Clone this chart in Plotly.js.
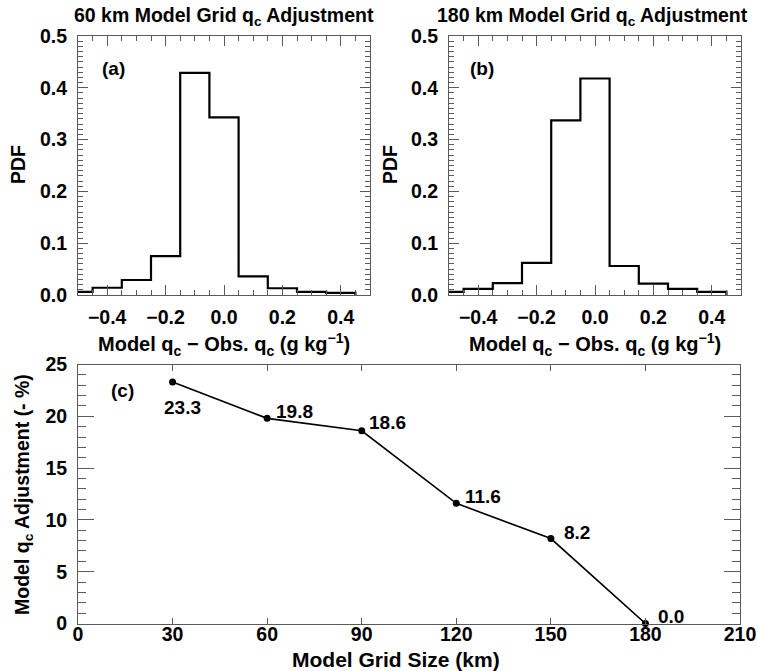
<!DOCTYPE html>
<html>
<head>
<meta charset="utf-8">
<script src="https://cdn.plot.ly/plotly-3.0.1.min.js"></script>
<style>html,body{margin:0;padding:0;background:#fff}#chart{width:758px;height:671px}</style>
</head>
<body>
<div id="chart"></div>
<script>
// ---- data ----
const binCenters = [-0.5, -0.4, -0.3, -0.2, -0.1, 0.0, 0.1, 0.2, 0.3, 0.4];
const pdf60km  = [0.006, 0.014, 0.029, 0.075, 0.429, 0.343, 0.036, 0.013, 0.006, 0.004];
const pdf180km = [0.006, 0.012, 0.023, 0.062, 0.337, 0.418, 0.056, 0.022, 0.012, 0.006];
const gridSize   = [30, 60, 90, 120, 150, 180];
const adjustment = [23.3, 19.8, 18.6, 11.6, 8.2, 0.0];
const panelTitles = ['60 km Model Grid q<sub>c</sub> Adjustment', '180 km Model Grid q<sub>c</sub> Adjustment'];
const panelLetters = ['(a)', '(b)', '(c)'];

// ---- helpers ----
const W = 758, H = 671;
const px = v => v / W;
const py = v => 1 - v / H;
const binWidth = 0.1;
function stepXY(centers, vals) {
  const xs = [], ys = [];
  centers.forEach((c, i) => { xs.push(c - binWidth / 2); ys.push(vals[i]); });
  xs.push(centers[centers.length - 1] + binWidth / 2); ys.push(vals[vals.length - 1]);
  xs.push(centers[centers.length - 1] + binWidth / 2); ys.push(0);
  return {xs, ys};
}
const FONT = 'Liberation Sans, Arial, Helvetica, sans-serif';
const AX = '#5a5a5a';
const tickFont = {family: FONT, size: 19.5, color: '#000', weight: 'bold'};

const s60 = stepXY(binCenters, pdf60km);
const s180 = stepXY(binCenters, pdf180km);

const traces = [
  {x: s60.xs, y: s60.ys, xaxis: 'x', yaxis: 'y', type: 'scatter', mode: 'lines',
   line: {shape: 'hv', color: '#000', width: 2.2}, hoverinfo: 'skip'},
  {x: s180.xs, y: s180.ys, xaxis: 'x2', yaxis: 'y2', type: 'scatter', mode: 'lines',
   line: {shape: 'hv', color: '#000', width: 2.2}, hoverinfo: 'skip'},
  {x: gridSize, y: adjustment, xaxis: 'x3', yaxis: 'y3', type: 'scatter', mode: 'lines+markers',
   line: {color: '#000', width: 1.6}, marker: {color: '#000', size: 7}, cliponaxis: false}
];

function histX(domain, anchor) {
  return {domain, anchor, range: [-0.5, 0.5], tick0: 0, dtick: 0.2, tickformat: '.1f',
    ticks: 'inside', ticklen: 10, tickwidth: 1, tickcolor: AX,
    minor: {dtick: 0.05, ticks: 'inside', ticklen: 5, tickcolor: AX, tickwidth: 1},
    showline: true, linecolor: AX, linewidth: 1, mirror: 'allticks',
    showgrid: false, zeroline: false, tickfont: tickFont, ticklabelstandoff: 5};
}
function histY(domain, anchor) {
  return {domain, anchor, range: [0, 0.5], tick0: 0, dtick: 0.1, tickformat: '.1f',
    ticks: 'inside', ticklen: 10, tickwidth: 1, tickcolor: AX,
    minor: {dtick: 0.01, ticks: 'inside', ticklen: 5, tickcolor: AX, tickwidth: 1},
    showline: true, linecolor: AX, linewidth: 1, mirror: 'allticks',
    showgrid: false, zeroline: false, tickfont: tickFont, ticklabelstandoff: 6};
}

const labelShift = [[10, -25], [27, 7], [26, 8], [27, 7], [26, 6], [26, 7.5]];
const ann = [];
const tf = (size) => ({family: FONT, size, color: '#000', weight: 'bold'});
ann.push({xref: 'paper', yref: 'paper', x: px(224), y: py(17), text: panelTitles[0], showarrow: false, xanchor: 'center', yanchor: 'middle', font: tf(19.5)});
ann.push({xref: 'paper', yref: 'paper', x: px(592), y: py(17), text: panelTitles[1], showarrow: false, xanchor: 'center', yanchor: 'middle', font: tf(19.5)});
const xtitle = 'Model q<sub>c</sub> − Obs. q<sub>c</sub> (g kg<sup>−1</sup>)';
ann.push({xref: 'paper', yref: 'paper', x: px(224), y: py(344), text: xtitle, showarrow: false, xanchor: 'center', yanchor: 'middle', font: tf(20)});
ann.push({xref: 'paper', yref: 'paper', x: px(595), y: py(344), text: xtitle, showarrow: false, xanchor: 'center', yanchor: 'middle', font: tf(20)});
ann.push({xref: 'paper', yref: 'paper', x: px(18), y: py(165), text: 'PDF', textangle: -90, showarrow: false, xanchor: 'center', yanchor: 'middle', font: tf(19.5)});
ann.push({xref: 'paper', yref: 'paper', x: px(390), y: py(165), text: 'PDF', textangle: -90, showarrow: false, xanchor: 'center', yanchor: 'middle', font: tf(19.5)});
ann.push({xref: 'paper', yref: 'paper', x: px(23), y: py(495), text: 'Model q<sub>c</sub> Adjustment (- %)', textangle: -90, showarrow: false, xanchor: 'center', yanchor: 'middle', font: tf(19.5)});
ann.push({xref: 'paper', yref: 'paper', x: px(396), y: py(659), text: 'Model Grid Size (km)', showarrow: false, xanchor: 'center', yanchor: 'middle', font: tf(21)});
ann.push({xref: 'x', yref: 'y', x: -0.377, y: 0.437, text: panelLetters[0], showarrow: false, xanchor: 'center', yanchor: 'middle', font: tf(19)});
ann.push({xref: 'x2', yref: 'y2', x: -0.387, y: 0.437, text: panelLetters[1], showarrow: false, xanchor: 'center', yanchor: 'middle', font: tf(19)});
ann.push({xref: 'x3', yref: 'y3', x: 14, y: 22.5, text: panelLetters[2], showarrow: false, xanchor: 'center', yanchor: 'middle', font: tf(19)});
gridSize.forEach((g, i) => {
  ann.push({xref: 'x3', yref: 'y3', x: g, y: adjustment[i], text: adjustment[i].toFixed(1), showarrow: false,
    xanchor: 'center', yanchor: 'middle', xshift: labelShift[i][0], yshift: labelShift[i][1], font: tf(19)});
});

const layout = {
  width: W, height: H, margin: {l: 0, r: 0, t: 0, b: 0},
  paper_bgcolor: '#fff', plot_bgcolor: '#fff', showlegend: false,
  font: {family: FONT, color: '#000'},
  xaxis: histX([px(78), px(370)], 'y'),
  yaxis: histY([py(295), py(36)], 'x'),
  xaxis2: histX([px(449), px(741)], 'y2'),
  yaxis2: histY([py(295), py(36)], 'x2'),
  xaxis3: {domain: [px(78), px(740)], anchor: 'y3', range: [0, 210], tick0: 0, dtick: 30,
    ticks: 'inside', ticklen: 6, tickwidth: 1, tickcolor: AX,
    showline: true, linecolor: AX, linewidth: 1, mirror: 'allticks',
    showgrid: false, zeroline: false, tickfont: tickFont, ticklabelstandoff: -7},
  yaxis3: {domain: [py(623.5), py(364.5)], anchor: 'x3', range: [0, 25], tick0: 0, dtick: 5,
    ticks: 'inside', ticklen: 16, tickwidth: 1, tickcolor: AX,
    minor: {dtick: 1, ticks: 'inside', ticklen: 8, tickcolor: AX, tickwidth: 1},
    showline: true, linecolor: AX, linewidth: 1, mirror: 'allticks',
    showgrid: false, zeroline: false, tickfont: tickFont, ticklabelstandoff: 6},
  annotations: ann
};

Plotly.newPlot('chart', traces, layout, {staticPlot: true, displayModeBar: false});
</script>
</body>
</html>
